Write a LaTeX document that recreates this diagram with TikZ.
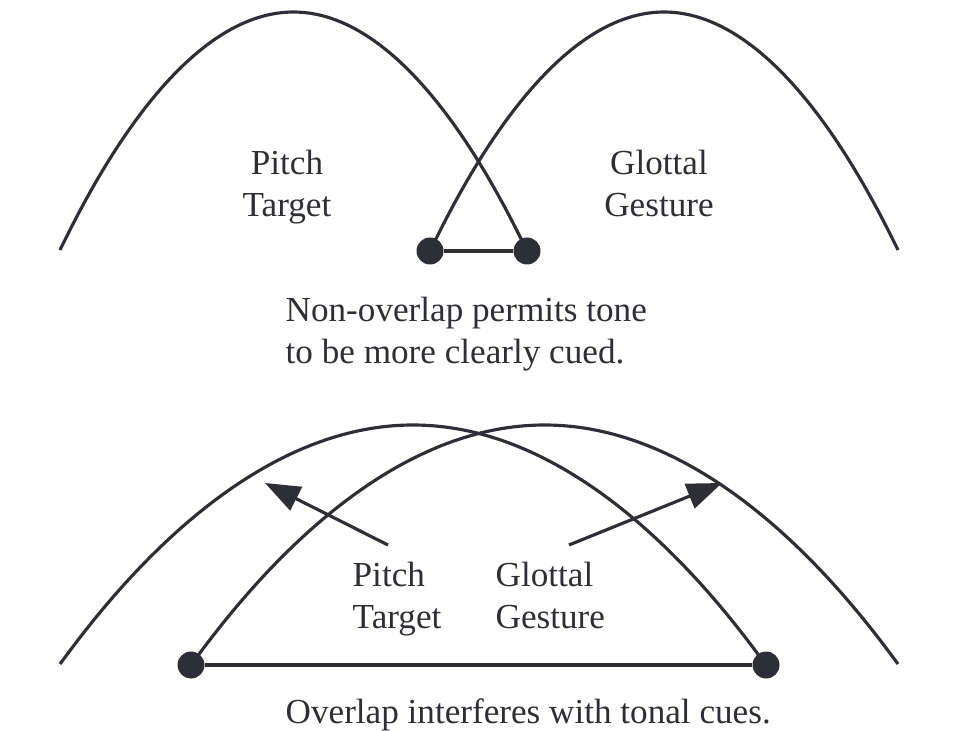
\documentclass[tikz,border=0pt]{standalone}
\usepackage{fontspec}
\setmainfont{Liberation Serif}
\usetikzlibrary{arrows.meta}
\definecolor{ink}{RGB}{46,47,53}
\tikzset{
  arch/.style={line width=0.9pt, draw=ink},
  dot/.style={circle, fill=ink, inner sep=0pt, minimum size=0.27cm},
  lbl/.style={text=ink, inner sep=0pt, font=\fontsize{10}{12}\selectfont, align=center},
  note/.style={lbl, align=left, anchor=north west},
  pointer/.style={line width=0.9pt, draw=ink, -{Triangle[length=3.5mm,width=2.6mm]}}
}
\begin{document}
\begin{tikzpicture}
  \useasboundingbox (0,0) rectangle (9.58,7.30);
  % non-overlap
  \node[dot] (tl) at (4.30,4.79) {};
  \node[dot] (tr) at (5.27,4.79) {};
  \draw[arch] (0.60,4.80) parabola bend (2.935,7.18) (tr.center);
  \draw[arch] (tl.center) parabola bend (6.64,7.18) (8.98,4.80);
  \draw[arch] (tl) -- (tr);
  \node[lbl, anchor=north] (pitchA) at (2.87,5.81) {Pitch\\Target};
  \node[lbl, anchor=north] (glotA) at (6.59,5.81) {Glottal\\Gesture};
  \node[note] (noteA) at (2.85,4.34) {Non-overlap permits tone\\to be more clearly cued.};
  % overlap
  \node[dot] (bl) at (1.91,0.65) {};
  \node[dot] (br) at (7.66,0.65) {};
  \draw[arch] (0.60,0.66) parabola bend (4.13,3.05) (br.center);
  \draw[arch] (bl.center) parabola bend (5.445,3.05) (8.98,0.66);
  \draw[arch] (bl) -- (br);
  \node[note] (pitchB) at (3.52,1.69) {Pitch\\Target};
  \node[note] (glotB) at (4.95,1.69) {Glottal\\Gesture};
  \node[note] (noteB) at (2.85,0.32) {Overlap interferes with tonal cues.};
  \coordinate (pa) at (3.88,1.85);
  \coordinate (pb) at (2.65,2.47);
  \coordinate (ga) at (5.69,1.85);
  \coordinate (gb) at (7.22,2.47);
  \draw[pointer] (pa) -- (pb);
  \draw[pointer] (ga) -- (gb);
\end{tikzpicture}
\end{document}
